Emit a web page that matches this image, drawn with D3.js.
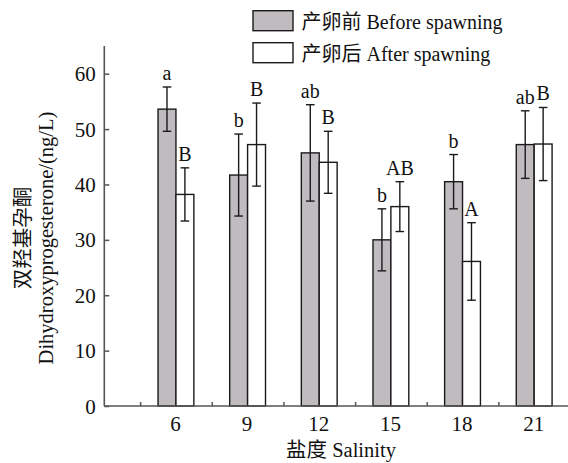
<!DOCTYPE html>
<html><head><meta charset="utf-8">
<script src="https://cdn.jsdelivr.net/npm/d3@7"></script>
<style>body{margin:0;background:#fff}svg{display:block}</style>
</head><body>
<svg id="c" width="568" height="463"></svg>
<script>
const salinity = [6, 9, 12, 15, 18, 21];
const before = [53.6, 41.7, 45.7, 30.0, 40.5, 47.2];
const beforeErr = [4.0, 7.4, 8.7, 5.6, 4.9, 6.1];
const after = [38.2, 47.2, 44.0, 36.0, 26.1, 47.3];
const afterErr = [4.8, 7.5, 5.6, 4.5, 7.0, 6.6];
const beforeLetters = ["a", "b", "ab", "b", "b", "ab"];
const afterLetters = ["B", "B", "B", "AB", "A", "B"];
const yTicks = [0, 10, 20, 30, 40, 50, 60];
const minorTicks = [4.5, 7.5, 10.5, 13.5, 16.5, 19.5, 22.5];
const legendLabels = ["产卵前 Before spawning", "产卵后 After spawning"];

const svg = d3.select("#c");
const serif = "'Liberation Serif','Times New Roman',serif";
const cjk = "'Liberation Serif','Noto Sans CJK SC',serif";
const x = d3.scaleLinear().domain([3, 22.5]).range([104.3, 570]);
const y = d3.scaleLinear().domain([0, 65]).range([406, 46]);
const barW = (x(1) - x(0)) * 0.75;
const axisCol = "#555";
const barStroke = "#1a1a1a";
const grayFill = "#bfbbbf";

// bars
const series = [
  {vals: before, err: beforeErr, letters: beforeLetters, fill: grayFill, off: -1},
  {vals: after, err: afterErr, letters: afterLetters, fill: "#fff", off: 0}
];
series.forEach(s => {
  const g = svg.append("g");
  salinity.forEach((sv, i) => {
    const x0 = x(sv) + s.off * barW;
    g.append("rect").attr("x", x0).attr("y", y(s.vals[i]))
      .attr("width", barW).attr("height", y(0) - y(s.vals[i]))
      .attr("fill", s.fill).attr("stroke", barStroke).attr("stroke-width", 1.4);
  });
});
series.forEach(s => {
  const g = svg.append("g");
  salinity.forEach((sv, i) => {
    const cx = x(sv) + s.off * barW + barW / 2;
    const hi = y(s.vals[i] + s.err[i]), lo = y(s.vals[i] - s.err[i]);
    g.append("line").attr("x1", cx).attr("x2", cx).attr("y1", hi).attr("y2", lo)
      .attr("stroke", barStroke).attr("stroke-width", 1.4);
    [hi, lo].forEach(yy => g.append("line").attr("x1", cx - 4.3).attr("x2", cx + 4.3)
      .attr("y1", yy).attr("y2", yy).attr("stroke", barStroke).attr("stroke-width", 1.4));
    g.append("text").attr("x", cx).attr("y", hi - 7).attr("text-anchor", "middle")
      .attr("font-family", serif).attr("font-size", 20).attr("fill", "#111")
      .text(s.letters[i]);
  });
});

// axes
const yAxis = svg.append("g").attr("transform", `translate(${x(3)},0)`)
  .call(d3.axisLeft(y).tickValues(yTicks).tickSize(-5).tickPadding(8.6).tickFormat(d3.format("d")));
yAxis.select(".domain").attr("d", `M0,${y(65)}V${y(0)}`);
const xAxis = svg.append("g").attr("transform", `translate(0,${y(0)})`)
  .call(d3.axisBottom(x).tickValues(minorTicks).tickSize(-4).tickFormat(""));
xAxis.select(".domain").attr("d", `M${x(3)},0H${x(22.5)}`);
[yAxis, xAxis].forEach(a => {
  a.selectAll(".domain").attr("stroke", axisCol).attr("stroke-width", 1.6);
  a.selectAll(".tick line").attr("stroke", axisCol).attr("stroke-width", 1.5);
});
yAxis.selectAll(".tick text").attr("font-family", serif).attr("font-size", 21)
  .attr("fill", "#111").attr("dy", "0.34em");
const xLab = svg.append("g").attr("transform", `translate(0,${y(0)})`)
  .call(d3.axisBottom(x).tickValues(salinity).tickSize(0).tickPadding(10));
xLab.select(".domain").remove();
xLab.selectAll(".tick text").attr("font-family", serif).attr("font-size", 21).attr("fill", "#111")
  .attr("x", -1);

// axis titles
svg.append("text").attr("x", 341).attr("y", 457).attr("text-anchor", "middle")
  .attr("font-family", cjk).attr("font-size", 20.5).attr("fill", "#111").text("盐度 Salinity");
const yt = svg.append("text").attr("transform", "translate(0,238) rotate(-90)")
  .attr("text-anchor", "middle").attr("font-family", cjk).attr("font-size", 20.5).attr("fill", "#111");
yt.append("tspan").attr("x", 0).attr("y", 30).text("双羟基孕酮");
yt.append("tspan").attr("x", 0).attr("y", 53).attr("font-family", serif).text("Dihydroxyprogesterone/(ng/L)");

// legend
const fills = [grayFill, "#fff"];
legendLabels.forEach((t, i) => {
  const ly = 10.7 + i * 32;
  svg.append("rect").attr("x", 253).attr("y", ly).attr("width", 40).attr("height", 20)
    .attr("fill", fills[i]).attr("stroke", barStroke).attr("stroke-width", 1.4);
  svg.append("text").attr("x", 301.5).attr("y", ly + 18.5).attr("font-family", cjk)
    .attr("font-size", 20).attr("fill", "#111").text(t);
});
</script>
</body></html>
